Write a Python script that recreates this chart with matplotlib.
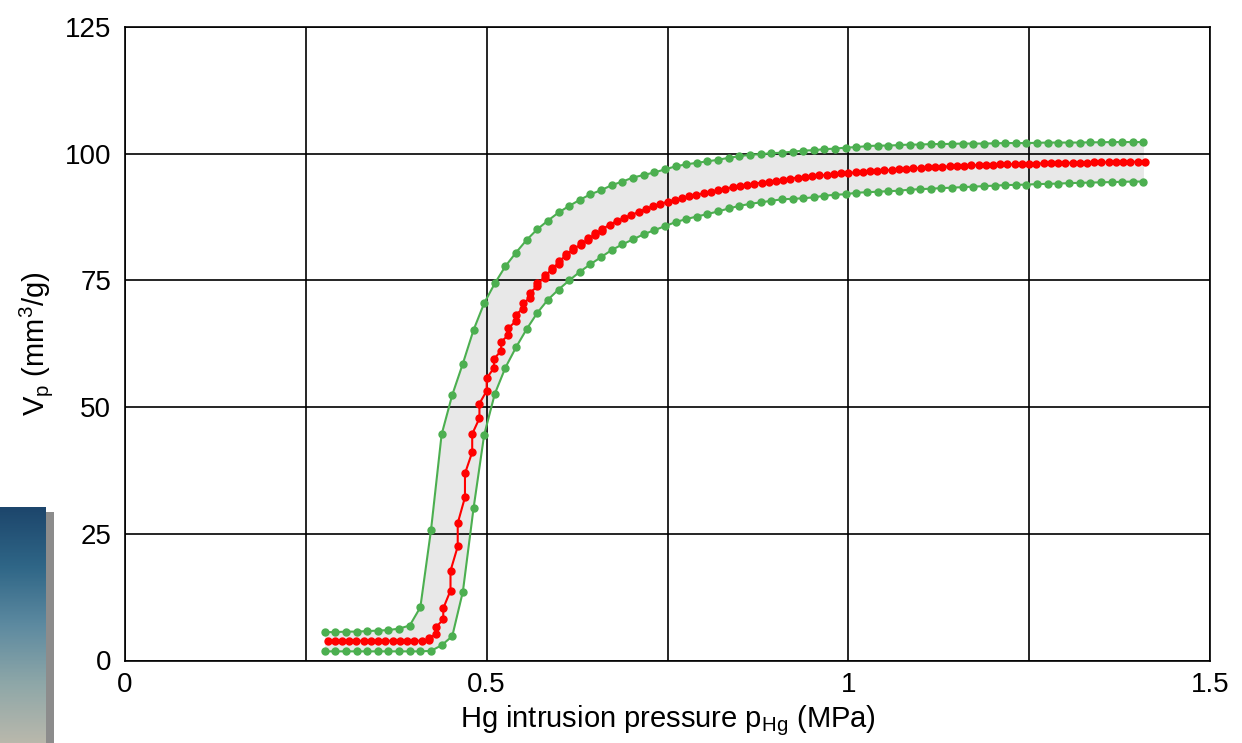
import numpy as np
import matplotlib
matplotlib.use('Agg')
import matplotlib.pyplot as plt
from matplotlib.colors import LinearSegmentedColormap

plt.rcParams['font.family'] = ['Liberation Sans', 'DejaVu Sans']

# red: measured curve, one pressure step every 0.01 MPa
red_p = np.linspace(0.28, 1.41, 114)
red_v = [3.9] * 14 + [
    4.4, 6.6, 10.3, 17.7, 27.1, 36.9, 44.7, 50.7, 55.7, 59.5,
    62.9, 65.6, 68.2, 70.5, 72.6, 74.4, 76.0, 77.5, 78.9, 80.3,
    81.4, 82.3, 83.4, 84.3, 85.1, 86.0, 86.7, 87.3, 87.9, 88.5,
    89.1, 89.6, 90.1, 90.5, 90.9, 91.2, 91.6, 91.9, 92.2, 92.5,
    92.8, 93.1, 93.4, 93.6, 93.9, 94.1, 94.3, 94.5, 94.7, 94.9,
    95.1, 95.3, 95.4, 95.6, 95.7, 95.8, 95.95, 96.1, 96.2, 96.3,
    96.4, 96.5, 96.6, 96.7, 96.8, 96.9, 97.0, 97.1, 97.2, 97.3,
    97.35, 97.4, 97.5, 97.55, 97.6, 97.7, 97.75, 97.8, 97.85, 97.9,
    97.9, 97.95, 98.0, 98.0, 98.05, 98.1, 98.1, 98.15, 98.2, 98.2,
    98.25, 98.25, 98.3, 98.3, 98.3, 98.35, 98.35, 98.4, 98.4, 98.4,
]
# value at the start of each step in the steep part (0.42 .. 0.66 MPa)
rise_start = 14
red_v_start = [
    4.1, 5.2, 8.1, 13.8, 22.5, 32.2, 41.1, 47.8, 53.2, 57.7,
    61.1, 64.2, 66.9, 69.4, 71.5, 73.8, 75.5, 77.0, 78.3, 79.8,
    81.0, 81.9, 82.9, 83.9, 84.8,
]

# green: upper / lower bounds
green_p = np.linspace(0.276, 1.408, 78)
green_hi = [
    5.6, 5.6, 5.7, 5.7, 5.8, 5.9, 6.0, 6.3, 6.9, 10.5,
    25.7, 44.6, 52.4, 58.6, 65.2, 70.5, 74.4, 77.8, 80.5, 83.0,
    85.1, 86.8, 88.4, 89.7, 90.9, 92.0, 92.8, 93.8, 94.5, 95.3,
    95.8, 96.3, 96.9, 97.5, 97.9, 98.2, 98.5, 98.8, 99.2, 99.5,
    99.8, 99.9, 100.1, 100.2, 100.4, 100.6, 100.7, 100.9, 101.0, 101.2,
    101.3, 101.5, 101.6, 101.6, 101.7, 101.8, 101.8, 101.9, 101.9, 101.95,
    102.0, 102.0, 102.0, 102.05, 102.1, 102.1, 102.1, 102.15, 102.2, 102.2,
    102.2, 102.2, 102.25, 102.25, 102.3, 102.3, 102.3, 102.3,
]
green_lo = [1.8] * 10 + [
    1.9, 3.0, 4.8, 13.6, 30.0, 44.5, 52.6, 57.8, 61.8, 65.4,
    68.6, 71.2, 73.2, 75.0, 76.7, 78.2, 79.6, 81.0, 82.1, 83.1,
    84.1, 84.9, 85.7, 86.5, 87.1, 87.6, 88.1, 88.6, 89.2, 89.7,
    90.1, 90.4, 90.7, 91.0, 91.1, 91.2, 91.4, 91.7, 91.9, 92.0,
    92.3, 92.4, 92.5, 92.6, 92.7, 92.9, 93.0, 93.1, 93.2, 93.3,
    93.4, 93.5, 93.6, 93.7, 93.8, 93.85, 93.9, 94.0, 94.05, 94.1,
    94.2, 94.25, 94.3, 94.35, 94.4, 94.45, 94.5, 94.5,
]

x_major = [0, 0.5, 1, 1.5]
x_minor = [0.25, 0.75, 1.25]
y_major = [0, 25, 50, 75, 100, 125]

# staircase path for the red curve
rx, ry = [], []
for i, (p, v) in enumerate(zip(red_p, red_v)):
    j = i - rise_start
    if 0 <= j < len(red_v_start):
        rx.append(p)
        ry.append(red_v_start[j])
    rx.append(p)
    ry.append(v)

fig = plt.figure(figsize=(12.42, 7.43), dpi=100)

# decorative slide remnant at the bottom left
shadow = fig.add_axes([46 / 1242, 0, 8 / 1242, 231 / 743])
shadow.set_facecolor('#8c8c8c')
shadow.set_xticks([]); shadow.set_yticks([])
for s in shadow.spines.values():
    s.set_visible(False)
grad = fig.add_axes([0, 0, 46 / 1242, 236 / 743])
cmap = LinearSegmentedColormap.from_list(
    'slide', ['#1d466c', '#2f6687', '#5d8aa0', '#8ea7a8', '#b9b8ac'])
grad.imshow(np.linspace(0, 1, 200).reshape(-1, 1), aspect='auto', cmap=cmap)
grad.set_axis_off()

ax = fig.add_axes([125 / 1242, 1 - 660.5 / 743, 1085 / 1242, 633.5 / 743])

ax.fill_between(green_p, green_lo, green_hi, color='#e8e8e8', lw=0, zorder=0.2)
ax.plot(green_p, green_hi, color='#4caf50', lw=1.5, marker='o', ms=5,
        mec='#4caf50', zorder=3)
ax.plot(green_p, green_lo, color='#4caf50', lw=1.5, marker='o', ms=5,
        mec='#4caf50', zorder=3)
ax.plot(rx, ry, color='#ff0000', lw=1.5, marker='o', ms=5, mec='#ff0000',
        zorder=4)

ax.set_xlim(0, 1.5)
ax.set_ylim(0, 125)
ax.set_xticks(x_major)
ax.set_xticklabels(['0', '0.5', '1', '1.5'])
ax.set_xticks(x_minor, minor=True)
ax.set_yticks(y_major)
ax.grid(True, which='both', color='black', lw=1.2)
ax.set_axisbelow(True)
ax.tick_params(which='both', length=0, labelsize=20)
ax.tick_params(axis='y', pad=10)
ax.tick_params(axis='x', pad=8)
for s in ax.spines.values():
    s.set_color('black')
    s.set_linewidth(1.2)

ax.set_xlabel('Hg intrusion pressure p$_{\\mathregular{Hg}}$ (MPa)', fontsize=21,
              labelpad=4)
ax.set_ylabel('V$_{\\mathregular{p}}$ (mm$^{\\mathregular{3}}$/g)', fontsize=21,
              labelpad=7)

fig.savefig('out.png', dpi=100, facecolor='white')
